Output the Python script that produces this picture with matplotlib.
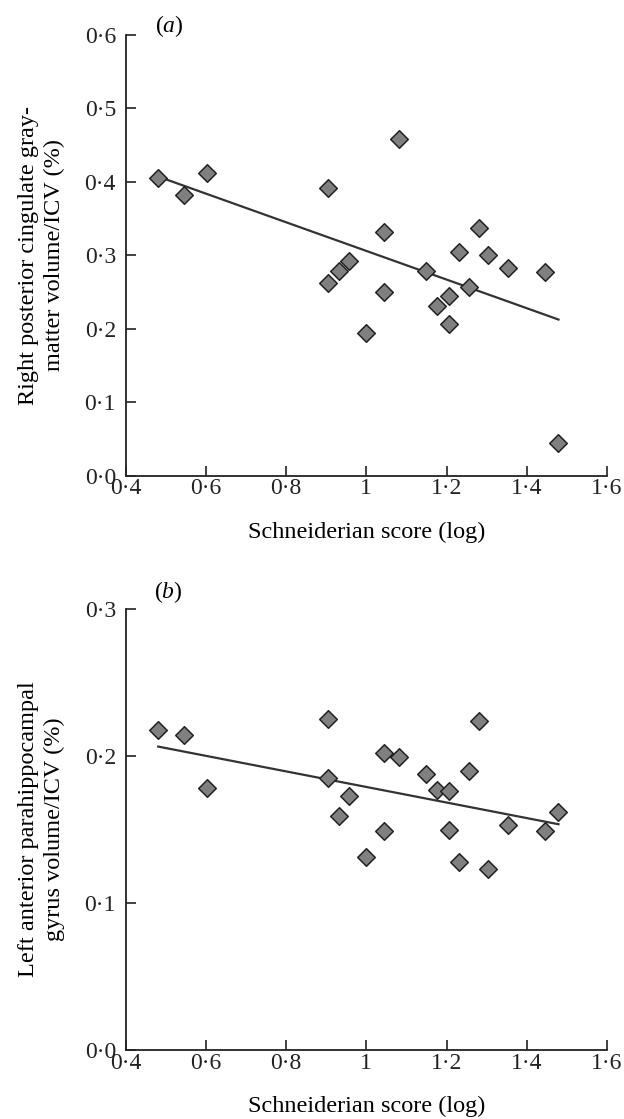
import numpy as np
import matplotlib
matplotlib.use("Agg")
import matplotlib.pyplot as plt
from matplotlib.ticker import FuncFormatter

plt.rcParams['font.family'] = ['Liberation Serif', 'DejaVu Serif']
plt.rcParams['mathtext.fontset'] = 'custom'
plt.rcParams['mathtext.rm'] = 'Liberation Serif'
plt.rcParams['mathtext.it'] = 'Liberation Serif:italic'

# Data
schneiderian_log = [0.481, 0.546, 0.603, 0.905, 0.905, 0.932, 0.957, 1.000,
                    1.044, 1.044, 1.082, 1.148, 1.176, 1.205, 1.205, 1.230,
                    1.257, 1.280, 1.303, 1.353, 1.445, 1.479]
cingulate_gm = [0.405, 0.382, 0.412, 0.391, 0.262, 0.279, 0.292, 0.194,
                0.332, 0.250, 0.458, 0.278, 0.231, 0.245, 0.207, 0.304,
                0.257, 0.337, 0.300, 0.283, 0.277, 0.044]
parahippo_gyrus = [0.218, 0.214, 0.178, 0.225, 0.185, 0.159, 0.173, 0.131,
                   0.202, 0.149, 0.199, 0.188, 0.177, 0.176, 0.150, 0.128,
                   0.190, 0.224, 0.123, 0.153, 0.149, 0.162]

x_ticks = [0.4, 0.6, 0.8, 1.0, 1.2, 1.4, 1.6]
y_ticks_a = [0.0, 0.1, 0.2, 0.3, 0.4, 0.5, 0.6]
y_ticks_b = [0.0, 0.1, 0.2, 0.3]

ylabel_a = "Right posterior cingulate gray-\nmatter volume/ICV (%)"
ylabel_b = "Left anterior parahippocampal\ngyrus volume/ICV (%)"
xlabel = "Schneiderian score (log)"


def dotfmt(v, pos):
    if abs(v - 1.0) < 1e-9:
        return "1"
    return ("%.1f" % v).replace(".", "\u00b7")


fig = plt.figure(figsize=(6.24, 11.19), dpi=100)
W, H = 624, 1119

def add_ax(left, top, right, bottom):
    return fig.add_axes([left / W, 1 - bottom / H, (right - left) / W, (bottom - top) / H])

ax_a = add_ax(125.7, 34.7, 607, 475.7)
ax_b = add_ax(125.7, 609, 607, 1050)

FS_TICK = 17
FS_LAB = 17.5
panels = [
    (ax_a, cingulate_gm, y_ticks_a, ylabel_a, "a", (169, 26)),
    (ax_b, parahippo_gyrus, y_ticks_b, ylabel_b, "b", (168, 592)),
]

x = np.array(schneiderian_log)
for ax, yv, yt, ylab, letter, (lx, ly) in panels:
    y = np.array(yv)
    slope, intercept = np.polyfit(x, y, 1)
    xl = np.array([x.min(), x.max()])
    ax.plot(xl, slope * xl + intercept, color='#333333', lw=1.6, zorder=2)
    ax.scatter(x, y, marker='D', s=80, facecolor='#808080', edgecolor='#222222',
               linewidths=1.1, zorder=3)
    ax.set_xlim(0.4, 1.6)
    ax.set_ylim(0, yt[-1])
    ax.set_xticks(x_ticks)
    ax.set_yticks(yt)
    ax.xaxis.set_major_formatter(FuncFormatter(dotfmt))
    ax.yaxis.set_major_formatter(FuncFormatter(dotfmt))
    for s in ['top', 'right']:
        ax.spines[s].set_visible(False)
    for s in ['left', 'bottom']:
        ax.spines[s].set_linewidth(1.3)
        ax.spines[s].set_color('#222222')
    ax.tick_params(direction='in', length=7, width=1.2, labelsize=FS_TICK, colors='#222222')
    ax.tick_params(axis='x', pad=2)
    ax.tick_params(axis='y', pad=7)
    ax.set_xlabel(xlabel, fontsize=FS_LAB, labelpad=16)
    ax.set_ylabel(ylab, fontsize=FS_LAB, labelpad=14, linespacing=1.3)
    fig.text(lx / W, 1 - ly / H, "(" + r"$\mathit{" + letter + "}$" + ")",
             fontsize=FS_TICK, ha='center', va='center')

fig.savefig("out.png", dpi=100, facecolor='white')
